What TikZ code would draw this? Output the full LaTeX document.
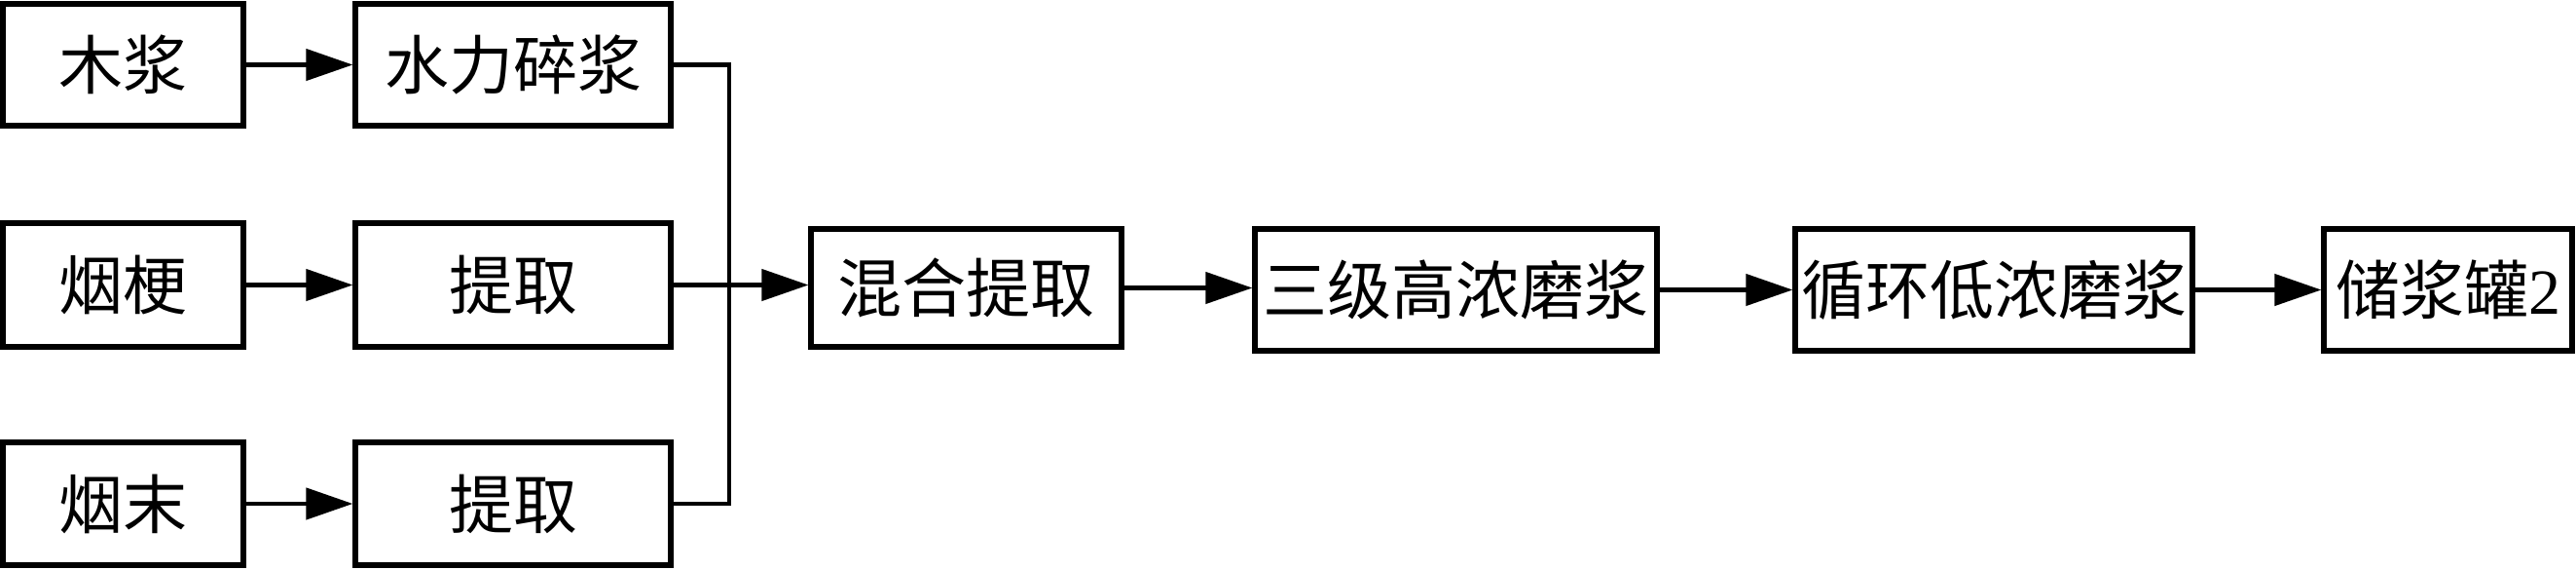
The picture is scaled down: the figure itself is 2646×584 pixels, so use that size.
\documentclass[tikz,border=0pt]{standalone}
\usepackage{fontspec}
\setmainfont{Noto Sans CJK SC}
\newfontfamily\latinserif{Liberation Serif}
\usetikzlibrary{arrows.meta}
\begin{document}
\begin{tikzpicture}[x=0.5pt,y=-0.5pt,
  box/.style={draw,line width=2.6pt,inner sep=0pt,font=\fontsize{33}{40}\selectfont},
  conn/.style={line width=2.2pt},
  arr/.style={conn,-{Triangle[length=24pt,width=16pt]}}]
\useasboundingbox (0,0) rectangle (2646,584);
\node[box,minimum width=123.5pt,minimum height=62.5pt] (A) at (126.5,66.5) {木浆};
\node[box,minimum width=162pt,minimum height=62.5pt] (B) at (527,66.5) {水力碎浆};
\node[box,minimum width=123.5pt,minimum height=63.5pt] (C) at (126.5,292.5) {烟梗};
\node[box,minimum width=162pt,minimum height=63.5pt] (D) at (527,292.5) {提取};
\node[box,minimum width=123.5pt,minimum height=63pt] (E) at (126.5,517) {烟末};
\node[box,minimum width=162pt,minimum height=63pt] (F) at (527,517) {提取};
\node[box,minimum width=159.5pt,minimum height=60.5pt] (G) at (992.5,295.5) {混合提取};
\node[box,minimum width=206.5pt,minimum height=62.5pt] (H) at (1495.5,297.5) {三级高浓磨浆};
\node[box,minimum width=204pt,minimum height=62.5pt] (I) at (2048,297.5) {循环低浓磨浆};
\node[box,minimum width=127.5pt,minimum height=62.5pt] (J) at (2514.5,297.5) {储浆罐{\latinserif 2}};
\coordinate (jn) at (749,292.5);
\draw[arr] (A) -- (B);
\draw[arr] (C) -- (D);
\draw[arr] (E) -- (F);
\draw[conn] (B.east) -| (jn) |- (F.east);
\draw[arr] (D.east) -- (D.east -| G.west);
\draw[arr] (G.east) -- (G.east -| H.west);
\draw[arr] (H.east) -- (H.east -| I.west);
\draw[arr] (I.east) -- (I.east -| J.west);
\end{tikzpicture}
\end{document}
